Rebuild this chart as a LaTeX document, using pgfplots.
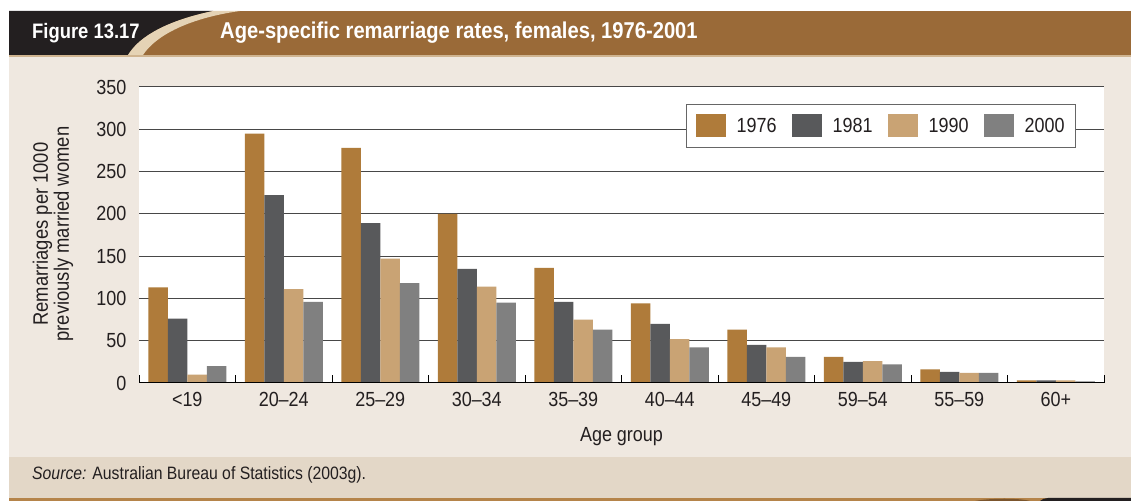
\documentclass[border=0pt]{standalone}
\usepackage{fontspec}
\setmainfont{Liberation Sans}[FakeStretch=0.88]
\usepackage{pgfplots}
\pgfplotsset{compat=1.18}
\definecolor{cA}{HTML}{AF7B3A}
\definecolor{cB}{HTML}{58595B}
\definecolor{cC}{HTML}{C9A374}
\definecolor{cD}{HTML}{808080}
\definecolor{hdrbrown}{HTML}{9A6A38}
\definecolor{hdrblack}{HTML}{231F20}
\definecolor{bgbeige}{HTML}{EFE8E0}
\definecolor{srcband}{HTML}{E3D7C7}
\definecolor{stripe}{HTML}{E5D3B5}
\definecolor{botbar}{HTML}{B5844A}
\definecolor{txt}{HTML}{231F20}
\newcommand{\fs}[1]{\fontsize{#1}{#1}\selectfont}
\begin{document}
\begin{tikzpicture}[x=1bp,y=1bp]
\useasboundingbox (0,0) rectangle (1131,501);
\fill[white] (0,0) rectangle (1131,501);
% header
\fill[hdrbrown] (9,446) rectangle (1131,490);
\fill[hdrblack] (9,446) -- (9,490) -- (213,490) .. controls (170,481) and (140,466) .. (128,446) -- cycle;
\fill[stripe] (128,446) .. controls (140,466) and (170,481) .. (213,490) -- (240,490) .. controls (190,483) and (156,466) .. (143,446) -- cycle;
\fill[stripe!70!hdrbrown] (9,444) rectangle (1131,446);
% body
\fill[bgbeige] (9,44) rectangle (1131,444);
\fill[srcband] (9,3) rectangle (1131,44);
\fill[botbar] (9,0) rectangle (1131,3);
\fill[hdrbrown!80!black] (975,0) .. controls (990,3) and (1020,3) .. (1030,0) -- cycle;
\fill[hdrblack] (1040,0) .. controls (1042,2) and (1045,3) .. (1048,3) -- (1131,3) -- (1131,0) -- cycle;
\node[anchor=west, white, font=\bfseries\fs{21}, inner sep=0] at (32,468) {Figure 13.17};
\node[anchor=west, white, font=\bfseries\fs{23}, inner sep=0] at (220,468) {Age-specific remarriage rates, females, 1976-2001};
\node[anchor=west, text=txt, font=\fs{18}, inner sep=0] at (32,26) {\textit{Source:} Australian Bureau of Statistics (2003g).};
\begin{axis}[
  at={(139bp,118bp)}, anchor=south west,
  scale only axis, width=965bp, height=296bp,
  ybar=0pt, bar width=19.5bp,
  xmin=-0.5, xmax=9.5, ymin=0, ymax=350,
  ytick={0,50,...,350},
  xtick={0,...,9},
  xticklabels={\textless19,20–24,25–29,30–34,35–39,40–44,45–49,59–54,55–59,60+},
  minor xtick={-0.5,0.5,...,9.5},
  xtick pos=bottom, ytick pos=left,
  major tick length=0pt,
  minor tick length=8bp,
  tick align=inside,
  minor tick style={black, line width=1bp},
  axis line style={draw=none},
  axis background/.style={fill=white},
  ymajorgrids, grid style={line width=1bp, color=black!72},
  /pgf/number format/assume math mode=true,
  ticklabel style={font=\fs{20.5}, text=txt},
  yticklabel style={xshift=-9bp},
  xticklabel style={yshift=-6bp},
  xlabel={Age group},
  ylabel={Remarriages per 1000\\previously married women},
  every axis x label/.style={at={(rel axis cs:0.5,-0.1824)}, anchor=center, font=\fs{20.5}, text=txt},
  every axis y label/.style={at={(rel axis cs:-0.0891,0.503)}, anchor=center, rotate=90, align=center, font=\fs{21}, text=txt},
  legend columns=4,
  legend image code/.code={\fill[#1] (0bp,-11.5bp) rectangle (30bp,11.5bp);},
  legend style={at={(rel axis cs:0.971,0.9426)}, anchor=north east,
    draw=black!60, line width=1bp, fill=white, font=\fs{20.5}, text=txt,
    inner xsep=9bp, inner ysep=10bp,
    /tikz/every odd column/.append style={column sep=9bp},
    /tikz/every even column/.append style={column sep=13bp}},
]
\addplot[fill=cA, draw=none] coordinates {(0,113) (1,295) (2,278) (3,200) (4,136) (5,94) (6,63) (7,31) (8,16) (9,3)};
\addplot[fill=cB, draw=none] coordinates {(0,76) (1,222) (2,189) (3,135) (4,96) (5,70) (6,45) (7,25) (8,13) (9,3)};
\addplot[fill=cC, draw=none] coordinates {(0,10) (1,111) (2,147) (3,114) (4,75) (5,52) (6,42) (7,26) (8,12) (9,3)};
\addplot[fill=cD, draw=none] coordinates {(0,20) (1,96) (2,118) (3,95) (4,63) (5,42) (6,31) (7,22) (8,12) (9,2)};
\legend{1976,1981,1990,2000}
\draw[black, line width=1.2bp] (rel axis cs:0,0) -- (rel axis cs:1,0);
\end{axis}
\end{tikzpicture}
\end{document}
